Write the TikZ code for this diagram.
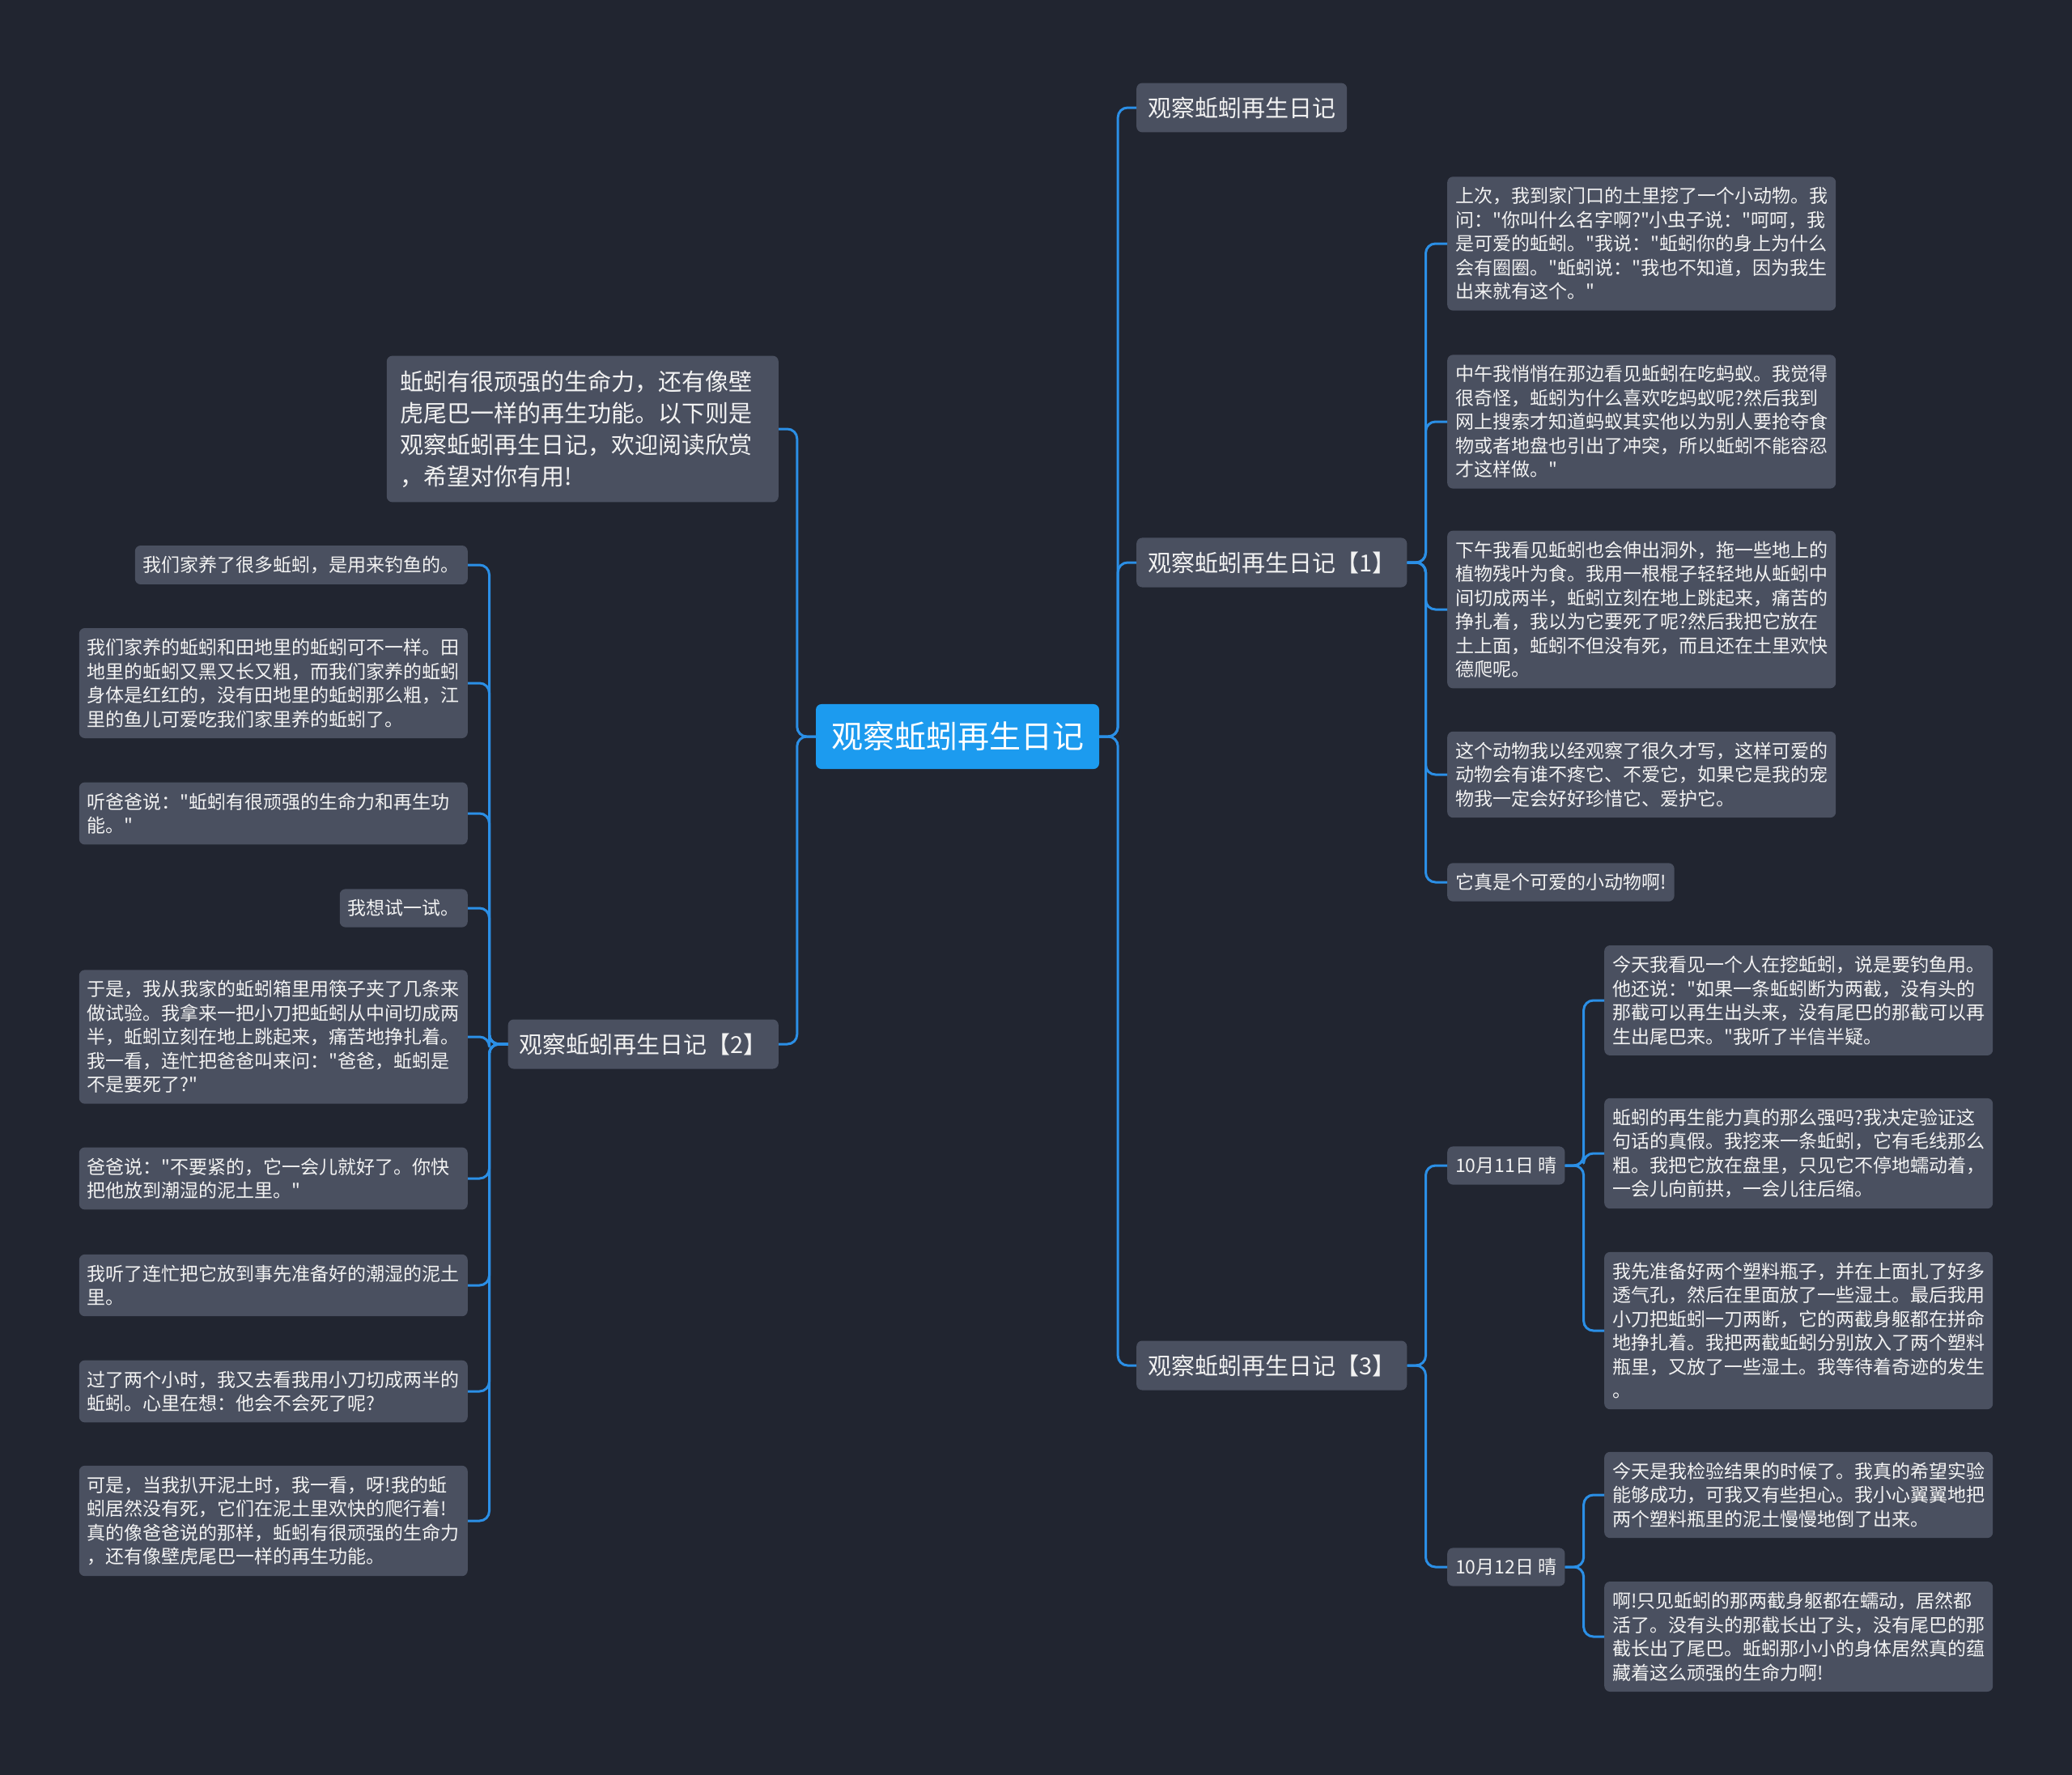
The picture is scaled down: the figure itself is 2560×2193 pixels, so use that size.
\documentclass[tikz,border=0pt]{standalone}
\usepackage{fontspec}
\setmainfont{Noto Sans CJK SC}[Ligatures=TeXOff]
\usepackage{tikz}

\definecolor{bgcol}{HTML}{212530}
\definecolor{boxcol}{HTML}{4A5060}
\definecolor{txtcol}{HTML}{F2F2F2}
\definecolor{rootcol}{HTML}{1C9BEF}
\definecolor{linkcol}{HTML}{2B8FE6}

\begin{document}
\begin{tikzpicture}[
            x = 1pt, % one pixel of the reference
            y = -1pt, % y runs downwards
            line join = round
        ]

        \tikzstyle{rootbox}=[
            fill = rootcol,
            text = white,
            rounded corners = 7pt,
            inner xsep = 19pt,
            inner ysep = 22pt,
            font = \fontsize{39}{47}\selectfont
        ]
        \tikzstyle{topicbox}=[
            fill = boxcol,
            text = txtcol,
            rounded corners = 7pt,
            inner xsep = 14pt,
            inner ysep = 17pt,
            font = \fontsize{29}{39}\selectfont
        ]
        \tikzstyle{notebox}=[
            fill = boxcol,
            text = txtcol,
            rounded corners = 7pt,
            inner xsep = 10pt,
            inner ysep = 13pt,
            align = left,
            font = \fontsize{23}{29.5}\selectfont
        ]
        \tikzstyle{widebox}=[notebox, text width = 460pt]
        \tikzstyle{link}=[draw = linkcol, line width = 3pt, rounded corners = 12pt]

        % background and page size
        \fill[bgcol] (0,0) rectangle (2560,2193);
        \useasboundingbox (0,0) rectangle (2560,2193);

        \node[rootbox] (root) at (1183,910) {观察蚯蚓再生日记};

        % right side
        \node[topicbox, anchor=west] (t0) at (1404,133) {观察蚯蚓再生日记};
        \node[topicbox, anchor=west] (t1) at (1404,695) {观察蚯蚓再生日记【1】};
        \node[topicbox, anchor=west] (t3) at (1404,1687) {观察蚯蚓再生日记【3】};

        \node[widebox, anchor=west] (a1) at (1788,301) {上次，我到家门口的土里挖了一个小动物。我\\问："你叫什么名字啊?"小虫子说："呵呵，我\\是可爱的蚯蚓。"我说："蚯蚓你的身上为什么\\会有圈圈。"蚯蚓说："我也不知道，因为我生\\出来就有这个。"};
        \node[widebox, anchor=west] (a2) at (1788,521) {中午我悄悄在那边看见蚯蚓在吃蚂蚁。我觉得\\很奇怪，蚯蚓为什么喜欢吃蚂蚁呢?然后我到\\网上搜索才知道蚂蚁其实他以为别人要抢夺食\\物或者地盘也引出了冲突，所以蚯蚓不能容忍\\才这样做。"};
        \node[widebox, anchor=west] (a3) at (1788,753) {下午我看见蚯蚓也会伸出洞外，拖一些地上的\\植物残叶为食。我用一根棍子轻轻地从蚯蚓中\\间切成两半，蚯蚓立刻在地上跳起来，痛苦的\\挣扎着，我以为它要死了呢?然后我把它放在\\土上面，蚯蚓不但没有死，而且还在土里欢快\\德爬呢。};
        \node[widebox, anchor=west] (a4) at (1788,957) {这个动物我以经观察了很久才写，这样可爱的\\动物会有谁不疼它、不爱它，如果它是我的宠\\物我一定会好好珍惜它、爱护它。};
        \node[notebox, anchor=west] (a5) at (1788,1090) {它真是个可爱的小动物啊!};

        \node[notebox, anchor=west] (d1) at (1788,1440) {10月11日 晴};
        \node[notebox, anchor=west] (d2) at (1788,1936) {10月12日 晴};

        \node[widebox, anchor=west] (c1) at (1982,1236) {今天我看见一个人在挖蚯蚓，说是要钓鱼用。\\他还说："如果一条蚯蚓断为两截，没有头的\\那截可以再生出头来，没有尾巴的那截可以再\\生出尾巴来。"我听了半信半疑。};
        \node[widebox, anchor=west] (c2) at (1982,1425) {蚯蚓的再生能力真的那么强吗?我决定验证这\\句话的真假。我挖来一条蚯蚓，它有毛线那么\\粗。我把它放在盘里，只见它不停地蠕动着，\\一会儿向前拱，一会儿往后缩。};
        \node[widebox, anchor=west] (c3) at (1982,1644) {我先准备好两个塑料瓶子，并在上面扎了好多\\透气孔，然后在里面放了一些湿土。最后我用\\小刀把蚯蚓一刀两断，它的两截身躯都在拼命\\地挣扎着。我把两截蚯蚓分别放入了两个塑料\\瓶里，又放了一些湿土。我等待着奇迹的发生\\。};
        \node[widebox, anchor=west] (c4) at (1982,1847) {今天是我检验结果的时候了。我真的希望实验\\能够成功，可我又有些担心。我小心翼翼地把\\两个塑料瓶里的泥土慢慢地倒了出来。};
        \node[widebox, anchor=west] (c5) at (1982,2022) {啊!只见蚯蚓的那两截身躯都在蠕动，居然都\\活了。没有头的那截长出了头，没有尾巴的那\\截长出了尾巴。蚯蚓那小小的身体居然真的蕴\\藏着这么顽强的生命力啊!};

        % left side
        \node[topicbox, anchor=east, align=left, text width=450pt, inner xsep=17pt, inner ysep=18pt] (intro) at (962,530) {蚯蚓有很顽强的生命力，还有像壁\\虎尾巴一样的再生功能。以下则是\\观察蚯蚓再生日记，欢迎阅读欣赏\\，希望对你有用!};
        \node[topicbox, anchor=east] (t2) at (962,1290) {观察蚯蚓再生日记【2】};

        \node[notebox, anchor=east] (b1) at (578,698) {我们家养了很多蚯蚓，是用来钓鱼的。};
        \node[widebox, anchor=east] (b2) at (578,844) {我们家养的蚯蚓和田地里的蚯蚓可不一样。田\\地里的蚯蚓又黑又长又粗，而我们家养的蚯蚓\\身体是红红的，没有田地里的蚯蚓那么粗，江\\里的鱼儿可爱吃我们家里养的蚯蚓了。};
        \node[widebox, anchor=east] (b3) at (578,1005) {听爸爸说："蚯蚓有很顽强的生命力和再生功\\能。"};
        \node[notebox, anchor=east] (b4) at (578,1122) {我想试一试。};
        \node[widebox, anchor=east] (b5) at (578,1281) {于是，我从我家的蚯蚓箱里用筷子夹了几条来\\做试验。我拿来一把小刀把蚯蚓从中间切成两\\半，蚯蚓立刻在地上跳起来，痛苦地挣扎着。\\我一看，连忙把爸爸叫来问："爸爸，蚯蚓是\\不是要死了?"};
        \node[widebox, anchor=east] (b6) at (578,1456) {爸爸说："不要紧的，它一会儿就好了。你快\\把他放到潮湿的泥土里。"};
        \node[widebox, anchor=east] (b7) at (578,1588) {我听了连忙把它放到事先准备好的潮湿的泥土\\里。};
        \node[widebox, anchor=east] (b8) at (578,1719) {过了两个小时，我又去看我用小刀切成两半的\\蚯蚓。心里在想：他会不会死了呢?};
        \node[widebox, anchor=east] (b9) at (578,1879) {可是，当我扒开泥土时，我一看，呀!我的蚯\\蚓居然没有死，它们在泥土里欢快的爬行着!\\真的像爸爸说的那样，蚯蚓有很顽强的生命力\\，还有像壁虎尾巴一样的再生功能。};

        % connectors
        \foreach \t in {t0,t1,t3}
            \draw[link] (root.east) -- ++(23,0) |- (\t.west);
        \foreach \t in {intro,t2}
            \draw[link] (root.west) -- ++(-23,0) |- (\t.east);
        \foreach \a in {a1,a2,a3,a4,a5}
            \draw[link] (t1.east) -- ++(23,0) |- (\a.west);
        \foreach \d in {d1,d2}
            \draw[link] (t3.east) -- ++(23,0) |- (\d.west);
        \foreach \c in {c1,c2,c3}
            \draw[link] (d1.east) -- ++(23,0) |- (\c.west);
        \foreach \c in {c4,c5}
            \draw[link] (d2.east) -- ++(23,0) |- (\c.west);
        \foreach \b in {b1,b2,b3,b4,b5,b6,b7,b8,b9}
            \draw[link] (t2.west) -- ++(-23,0) |- (\b.east);
    \end{tikzpicture}
\end{document}
